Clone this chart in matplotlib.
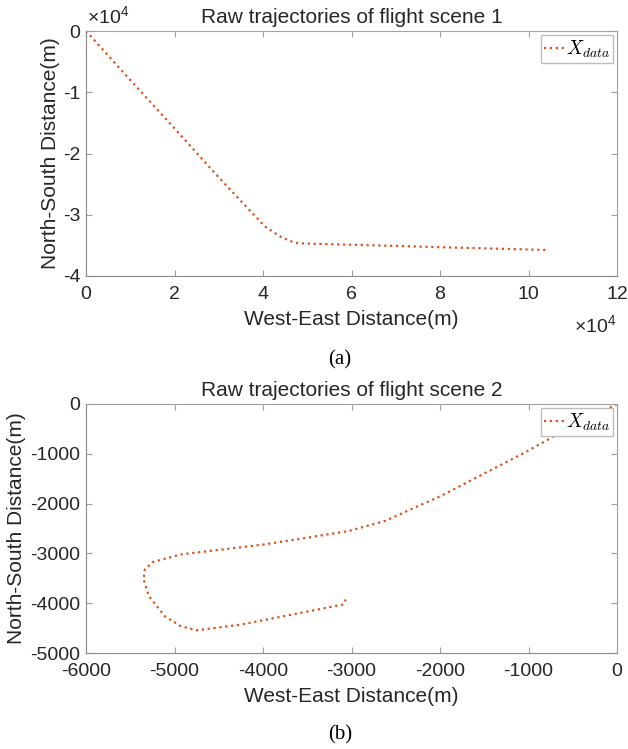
import matplotlib
matplotlib.use('Agg')

import matplotlib.pyplot as plt
import numpy as np

plt.rcParams['font.family'] = ['Liberation Sans', 'DejaVu Sans']
plt.rcParams['mathtext.fontset'] = 'cm'

# Escena 1 (unidades: 1e4 m)
este_1 = [0.0, 0.5, 1.0, 2.0, 3.0, 4.04, 4.40, 4.72, 4.95, 6.03, 8.0, 10.42]
norte_1 = [0.0, -0.40, -0.80, -1.59, -2.39, -3.19, -3.36, -3.46, -3.47, -3.49, -3.53, -3.575]

# Escena 2 (m)
este_2 = [0, -633, -1040, -1990, -2622, -3030, -3979, -4928, -5245, -5335,
          -5349, -5290, -5109, -4928, -4748, -4250, -3097, -3066]
norte_2 = [0, -570, -973, -1846, -2349, -2550, -2819, -3020, -3174, -3322,
           -3523, -3859, -4262, -4463, -4544, -4430, -4027, -3926]

color_linea = '#D95319'
color_eje = '#262626'


def estilo_matlab(ax):
    ax.tick_params(direction='in', top=True, right=True, length=4,
                   labelsize=14, colors='#a0a0a0', labelcolor=color_eje)
    ax.tick_params(axis='x', pad=7)
    ax.tick_params(axis='y', pad=4)
    for lado in ['left', 'bottom']:
        ax.spines[lado].set_color('#8a8a8a')
    for lado in ['top', 'right']:
        ax.spines[lado].set_color('#a0a0a0')
    ax.legend(loc='upper right', fontsize=14, frameon=True, fancybox=False,
              edgecolor='#bdbdbd', framealpha=1, handlelength=1.0,
              handletextpad=0.1, borderpad=0.18, borderaxespad=0.2)


fig = plt.figure(figsize=(6.28, 7.49), dpi=100)

ax1 = fig.add_axes([86 / 628, 1 - 276 / 749, 531 / 628, 245 / 749])
ax1.plot(este_1, norte_1, linestyle=':', color=color_linea, lw=1.6, label='$X_{data}$')
ax1.set_xlim(0, 12)
ax1.set_ylim(-4, 0)
ax1.set_xticks([0, 2, 4, 6, 8, 10, 12])
ax1.set_yticks([-4, -3, -2, -1, 0])
ax1.set_yticklabels(['-4', '-3', '-2', '-1', '0'])
ax1.set_title('Raw trajectories of flight scene 1', fontsize=15, color=color_eje, pad=6)
ax1.set_xlabel('West-East Distance(m)', fontsize=15, color=color_eje, labelpad=5)
ax1.set_ylabel('North-South Distance(m)', fontsize=15, color=color_eje, labelpad=2)
estilo_matlab(ax1)
ax1.text(0.002, 1.012, r'×10$^{\mathregular{4}}$', transform=ax1.transAxes, fontsize=14,
         color=color_eje, ha='left', va='bottom')
ax1.text(1.0, -0.16, r'×10$^{\mathregular{4}}$', transform=ax1.transAxes, fontsize=14,
         color=color_eje, ha='right', va='top')

ax2 = fig.add_axes([86 / 628, 1 - 653 / 749, 531 / 628, 249 / 749])
ax2.plot(este_2, norte_2, linestyle=':', color=color_linea, lw=1.6, label='$X_{data}$')
ax2.set_xlim(-6000, 0)
ax2.set_ylim(-5000, 0)
ax2.set_xticks(np.arange(-6000, 1, 1000))
ax2.set_yticks(np.arange(-5000, 1, 1000))
ax2.set_xticklabels([str(v) for v in range(-6000, 1, 1000)])
ax2.set_yticklabels([str(v) for v in range(-5000, 1, 1000)])
ax2.set_title('Raw trajectories of flight scene 2', fontsize=15, color=color_eje, pad=6)
ax2.set_xlabel('West-East Distance(m)', fontsize=15, color=color_eje, labelpad=5)
ax2.set_ylabel('North-South Distance(m)', fontsize=15, color=color_eje, labelpad=3)
estilo_matlab(ax2)

fig.text(340 / 628, 1 - 360 / 749, '(a)', family='Liberation Serif', fontsize=15,
         ha='center', va='center')
fig.text(340 / 628, 1 - 735 / 749, '(b)', family='Liberation Serif', fontsize=15,
         ha='center', va='center')

plt.savefig('out.png', dpi=100)
plt.close(fig)
